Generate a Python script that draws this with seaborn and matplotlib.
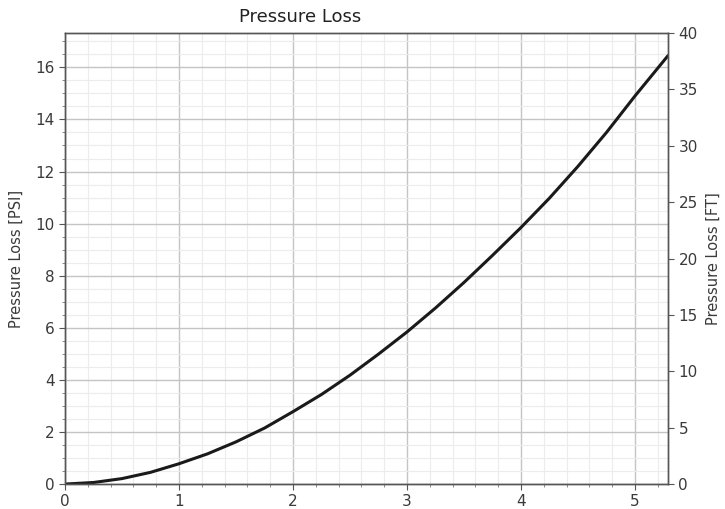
import matplotlib
matplotlib.use("Agg")
import matplotlib.pyplot as plt
from matplotlib.ticker import MultipleLocator
import seaborn as sns
import pandas as pd

# Flow vs. friction loss along the line
flow = [0, 0.25, 0.5, 0.75, 1.0, 1.25, 1.5, 1.75, 2.0, 2.25, 2.5, 2.75, 3.0,
        3.25, 3.5, 3.75, 4.0, 4.25, 4.5, 4.75, 5.0, 5.29]
loss_psi = [0, 0.06, 0.21, 0.45, 0.78, 1.16, 1.62, 2.15, 2.78, 3.44, 4.18,
            4.99, 5.84, 6.76, 7.74, 8.78, 9.85, 10.98, 12.2, 13.5, 14.9, 16.45]
psi_ticks = [0, 2, 4, 6, 8, 10, 12, 14, 16]
ft_ticks = [0, 5, 10, 15, 20, 25, 30, 35, 40]
FT_PER_PSI = 2.31

sns.set_style("ticks")
plt.rcParams["font.family"] = ["DejaVu Sans"]
text_color = "#3a3a3a"

df = pd.DataFrame({"flow": flow, "psi": loss_psi})

fig = plt.figure(figsize=(7.25, 5.09), dpi=100)
ax = fig.add_axes([0.0897, 0.049, 0.8317, 0.886])

sns.lineplot(data=df, x="flow", y="psi", ax=ax, color="#1a1a1a", linewidth=2.2)

ax.set_xlim(0, 5.29)
ax.set_ylim(0, 40 / FT_PER_PSI)
ax.set_xticks([0, 1, 2, 3, 4, 5])
ax.set_yticks(psi_ticks)
ax.xaxis.set_minor_locator(MultipleLocator(0.2))
ax.yaxis.set_minor_locator(MultipleLocator(0.5))

ax.grid(which="major", color="#c4c4c4", linewidth=1.0)
ax.grid(which="minor", color="#ececec", linewidth=0.8)
ax.set_axisbelow(True)

ax.set_xlabel("")
ax.set_ylabel("Pressure Loss [PSI]", fontsize=10.5, color=text_color, labelpad=8)
fig.text(0.330, 0.957, "Pressure Loss", fontsize=13, color="#222222",
         ha="left", va="baseline")

ax.tick_params(which="major", length=4, width=0.8, labelsize=11,
               colors="#555555", labelcolor=text_color)
ax.tick_params(which="minor", length=2, width=0.6, colors="#777777")

ax2 = ax.twinx()
ax2.set_ylim(0, 40)
ax2.set_yticks(ft_ticks)
ax2.set_ylabel("Pressure Loss [FT]", fontsize=10.5, color=text_color, labelpad=6)
ax2.tick_params(which="major", length=4, width=0.8, labelsize=11,
                colors="#555555", labelcolor=text_color)

for a in (ax, ax2):
    for s in a.spines.values():
        s.set_color("#555555")
        s.set_linewidth(1.0)

fig.savefig("out.png", dpi=100)
